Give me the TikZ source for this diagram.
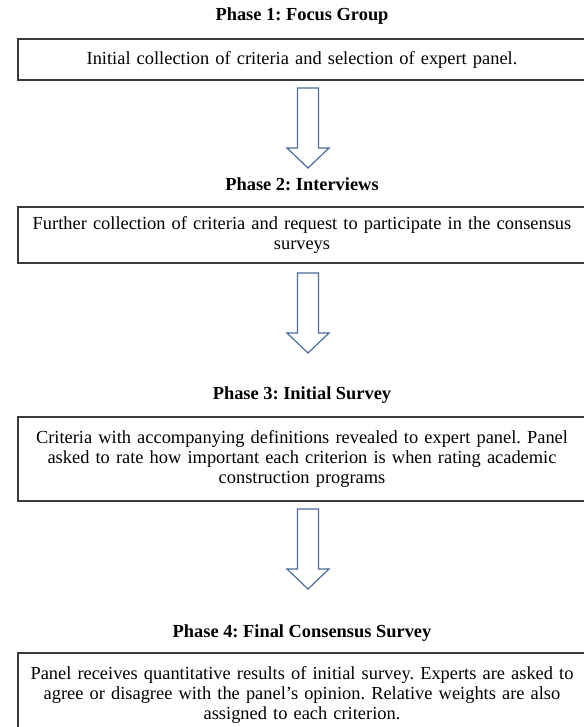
\documentclass[tikz,border=0pt]{standalone}
\usepackage{fontspec}
\setmainfont{Liberation Serif}
\frenchspacing
\definecolor{cBox}{HTML}{3A3A3A}
\definecolor{cArrow}{HTML}{4C6A9C}

\begin{document}
\begin{tikzpicture}[
  x=0.75pt,y=0.75pt,font=\fontsize{13.8}{15}\selectfont,
  box/.style={rectangle,draw=cBox,line width=1pt,align=center,inner sep=0pt,
              minimum width=426pt,text width=420pt,minimum height=#1},
  ttl/.style={font=\fontsize{13.8}{15}\selectfont\bfseries},
  ar/.style={draw=cArrow,line width=0.9pt,fill=white,line join=miter}
]
\useasboundingbox (0,0) rectangle (583,-727);

%======================= PHASE 1 =======================
\node[ttl] (t1) at (302,-16) {Phase 1: Focus Group};
\node[box=30.75pt] (b1) at (302,-59.5)
  {Initial collection of criteria and selection of expert panel.};
\coordinate (a1) at (308,-88);

%======================= PHASE 2 =======================
\node[ttl] (t2) at (302,-184) {Phase 2: Interviews};
\node[box=42pt] (b2) at (302,-235)
  {Further collection of criteria and request to participate in the consensus\\surveys};
\coordinate (a2) at (308,-273);

%======================= PHASE 3 =======================
\node[ttl] (t3) at (302,-395) {Phase 3: Initial Survey};
\node[box=63pt] (b3) at (302,-459)
  {Criteria with accompanying definitions revealed to expert panel. Panel\\
   asked to rate how important each criterion is when rating academic\\
   construction programs};
\coordinate (a3) at (308,-509);

%======================= PHASE 4 =======================
\node[ttl] (t4) at (302,-633) {Phase 4: Final Consensus Survey};
\node[box=63pt] (b4) at (302,-695)
  {Panel receives quantitative results of initial survey. Experts are asked to\\
   agree or disagree with the panel's opinion. Relative weights are also\\
   assigned to each criterion.};

%======================= BLOCK ARROWS =======================
\foreach \a in {a1,a2,a3}
  \draw[ar] (\a) ++(-10.5,0) -- ++(0,-60) -- ++(-10.5,0) -- ++(21,-20)
    -- ++(21,20) -- ++(-10.5,0) -- ++(0,60) -- cycle;

\end{tikzpicture}
\end{document}
